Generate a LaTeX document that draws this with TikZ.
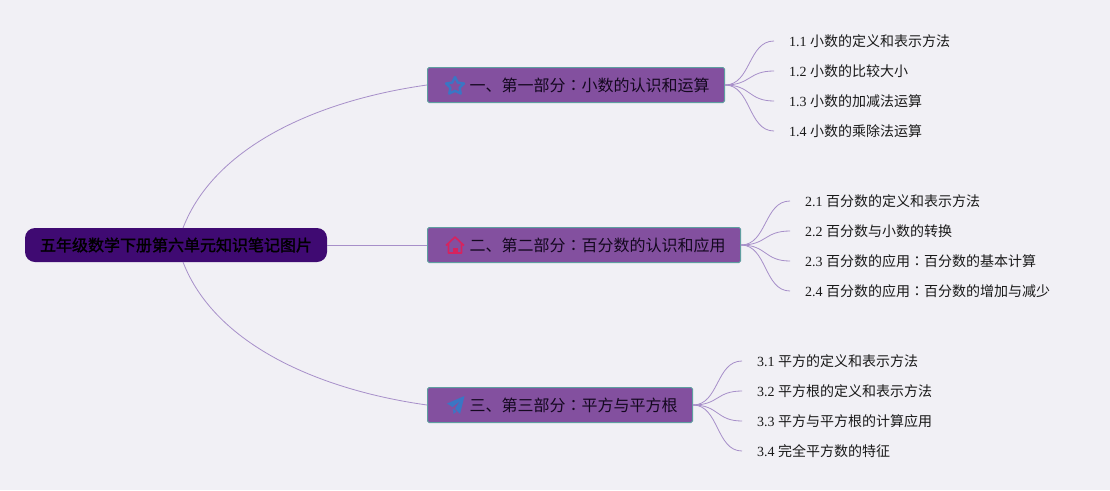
\documentclass[tikz,border=0pt]{standalone}
\usepackage{fontspec}
\usetikzlibrary{calc}
\setmainfont{Liberation Serif}
\newfontfamily\cjk{Noto Sans CJK SC}
\newfontfamily\cjkt{Noto Sans CJK TC}
\newfontfamily\cjkb[FakeBold=1.5]{Noto Sans CJK SC}
\newcommand{\cln}{{\cjkt ：}}
\definecolor{pagebg}{HTML}{F1F0F5}
\definecolor{rootfill}{HTML}{3F0A72}
\definecolor{branchfill}{HTML}{83509F}
\definecolor{branchedge}{HTML}{5F9EA0}
\definecolor{linkc}{HTML}{A78FC9}
\definecolor{inkc}{HTML}{14081F}
\definecolor{iconblue}{HTML}{3A76C4}
\definecolor{iconred}{HTML}{D6235F}
\newcommand{\lfnode}[4]{\node[leafnode] (#1) at (#2) {#3 {\cjk #4}};}
\tikzset{
  x=1pt,y=-1pt,
  rootnode/.style={draw=none,fill=rootfill,rounded corners=10pt,minimum width=302pt,minimum height=34pt,inner sep=0pt,text=black,font=\fontsize{16pt}{16pt}\selectfont\cjkb},
  branchnode/.style={draw=branchedge,line width=1pt,fill=branchfill,rounded corners=1.5pt,minimum height=35pt,inner sep=0pt,anchor=west,text=inkc,font=\fontsize{16pt}{16pt}\selectfont\cjk},
  leafnode/.style={anchor=west,inner xsep=0pt,inner ysep=2pt,text=black!90,font=\fontsize{14pt}{14pt}\selectfont},
  linkline/.style={draw=linkc,line width=0.8pt},
}
\newcommand{\blab}[1]{\hspace*{42pt}\raisebox{-0.7pt}{#1}\hspace*{15pt}}
\begin{document}
\begin{tikzpicture}
\useasboundingbox[fill=pagebg] (0,0) rectangle (1110,490);
\node[rootnode] (root) at (176,245) {五年级数学下册第六单元知识笔记图片};
\coordinate (rtop) at (183,228);
\coordinate (rbot) at (183,262);
\node[branchnode] (b1) at (427,85) {\blab{一、第一部分\cln 小数的认识和运算}};
\node[branchnode] (b2) at (427,245) {\blab{二、第二部分\cln 百分数的认识和应用}};
\node[branchnode] (b3) at (427,405) {\blab{三、第三部分\cln 平方与平方根}};
\draw[linkline] (rtop) .. controls (215,145) and (320,100) .. (b1.west);
\draw[linkline] (root.east) -- (b2.west);
\draw[linkline] (rbot) .. controls (215,345) and (320,390) .. (b3.west);
% leaves
\lfnode{a1}{774,41}{\hspace*{15pt}1.1}{小数的定义和表示方法}
\lfnode{a2}{774,71}{\hspace*{15pt}1.2}{小数的比较大小}
\lfnode{a3}{774,101}{\hspace*{15pt}1.3}{小数的加减法运算}
\lfnode{a4}{774,131}{\hspace*{15pt}1.4}{小数的乘除法运算}
\lfnode{c1}{790,201}{\hspace*{15pt}2.1}{百分数的定义和表示方法}
\lfnode{c2}{790,231}{\hspace*{15pt}2.2}{百分数与小数的转换}
\lfnode{c3}{790,261}{\hspace*{15pt}2.3}{百分数的应用\cln 百分数的基本计算}
\lfnode{c4}{790,291}{\hspace*{15pt}2.4}{百分数的应用\cln 百分数的增加与减少}
\lfnode{d1}{742,361}{\hspace*{15pt}3.1}{平方的定义和表示方法}
\lfnode{d2}{742,391}{\hspace*{15pt}3.2}{平方根的定义和表示方法}
\lfnode{d3}{742,421}{\hspace*{15pt}3.3}{平方与平方根的计算应用}
\lfnode{d4}{742,451}{\hspace*{15pt}3.4}{完全平方数的特征}
\foreach \b/\l in {b1/a1,b1/a2,b1/a3,b1/a4,b2/c1,b2/c2,b2/c3,b2/c4,b3/d1,b3/d2,b3/d3,b3/d4}{
  \draw[linkline] (\b.east) .. controls +(26,0) and ($(\l.west)+(-26,0)$) .. (\l.west);
}
% icons
\draw[iconblue,line width=2.4pt,line join=round] (455,77) -- (457.8,82.6) -- (464,83.5) -- (459.6,87.8) -- (460.7,93.6) -- (455,90.8) -- (449.3,93.6) -- (450.4,87.8) -- (446,83.5) -- (452.2,82.6) -- cycle;
\draw[iconred,line width=1.6pt,line join=round] (446,245.5) -- (455,237) -- (464,245.5) (448.5,243.5) -- (448.5,253) -- (461.5,253) -- (461.5,243.5);
\fill[iconred] (452.5,247.5) rectangle (457.5,253);
\fill[iconblue] (464.5,396) -- (447,403.5) -- (452.5,407) -- (460,401) -- (455,408.5) -- (460,414) -- cycle;
\fill[iconblue] (453,408.5) -- (453.5,414) -- (456.5,411.5) -- cycle;
\end{tikzpicture}
\end{document}
